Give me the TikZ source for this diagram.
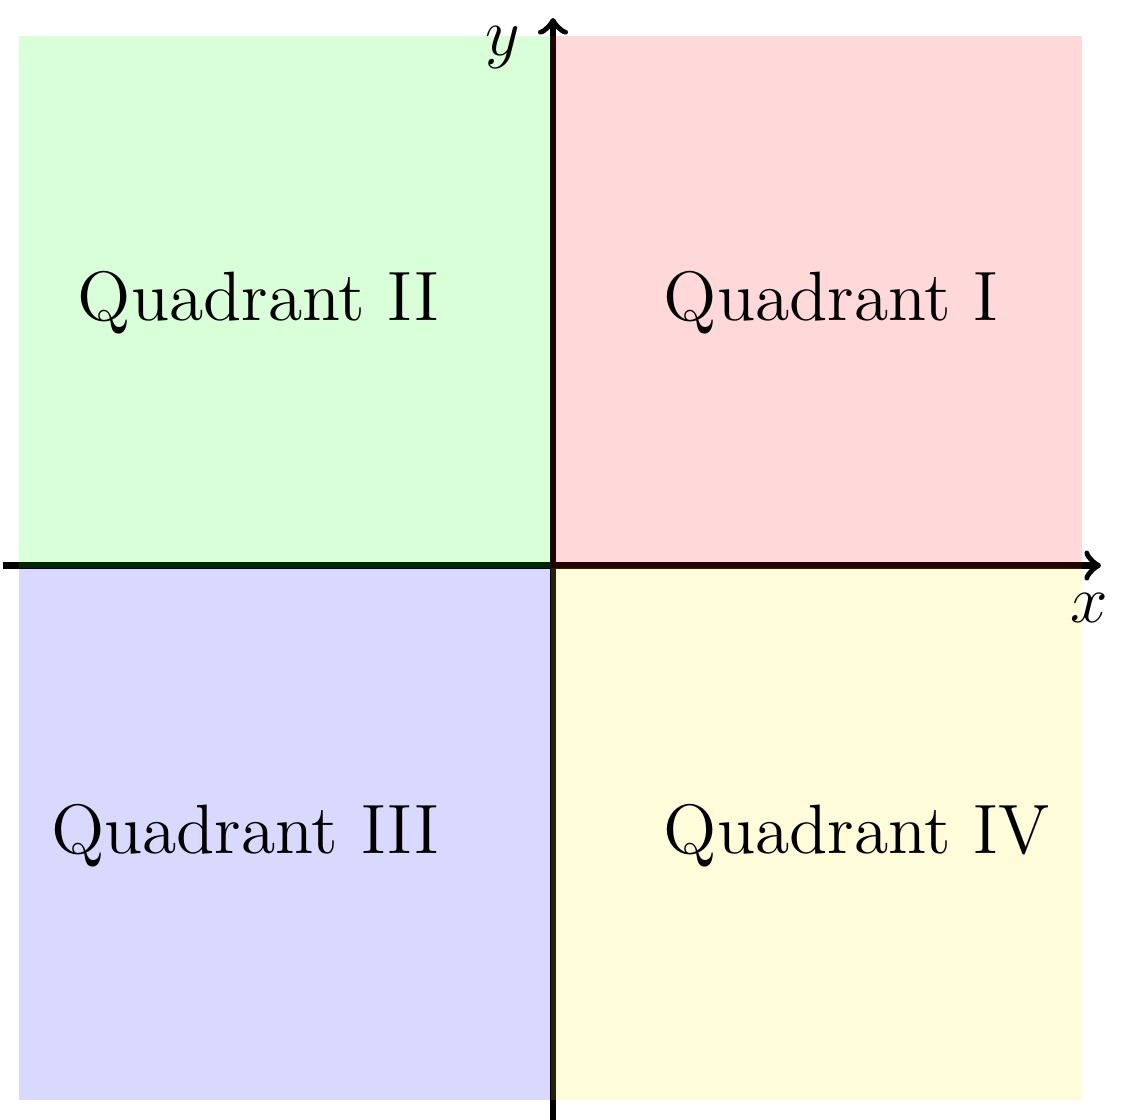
\documentclass[tikz,border=0pt]{standalone}
\begin{document}
\begin{tikzpicture}[x=0.2139pt,y=-0.2139pt,
  axisline/.style={line width=1.3pt,->},
  quadfill/.style={opacity=0.15},
  qlabel/.style={inner sep=0pt,font=\fontsize{14.95}{18}\selectfont},
  axlabel/.style={inner sep=0pt,font=\fontsize{14.95}{18}\selectfont}]
\useasboundingbox (0,0) rectangle (1132,1119);
% axes
\coordinate (xs) at (3,565.5);
\coordinate (xe) at (1101,565.5);
\coordinate (ys) at (553,1122);
\coordinate (ye) at (553,18);
\draw[axisline] (xs) -- (xe);
\draw[axisline] (ys) -- (ye);
% quadrant fills
\fill[quadfill,green]  (19,36) rectangle (550.5,568);
\fill[quadfill,red]    (550.5,36) rectangle (1082,568);
\fill[quadfill,blue]   (19,568) rectangle (550.5,1100);
\fill[quadfill,yellow] (550.5,568) rectangle (1082,1100);
% labels
\node[qlabel,anchor=base west] (q1) at (663,320) {Quadrant I};
\node[qlabel,anchor=base east] (q2) at (440,320) {Quadrant II};
\node[qlabel,anchor=base east] (q3) at (440,853) {Quadrant III};
\node[qlabel,anchor=base west] (q4) at (663,853) {Quadrant IV};
\node[axlabel,anchor=base] (ylab) at (503,55) {$y$};
\node[axlabel,anchor=base] (xlab) at (1089,622) {$x$};
\end{tikzpicture}
\end{document}
